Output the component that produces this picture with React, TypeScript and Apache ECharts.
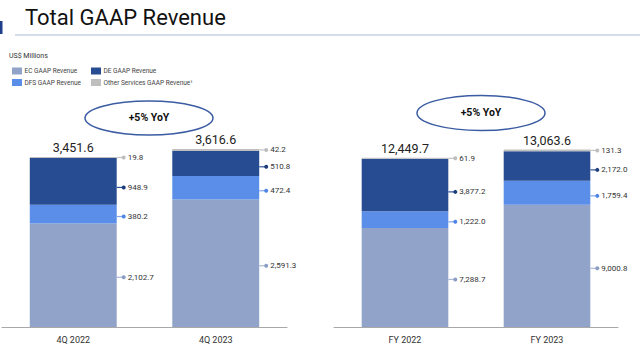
import React, { useEffect, useRef } from "react";
import * as echarts from "echarts";

const categoriesQ = ["4Q 2022", "4Q 2023"];
const categoriesFY = ["FY 2022", "FY 2023"];
const seriesNames = ["EC GAAP Revenue", "DFS GAAP Revenue", "DE GAAP Revenue", "Other Services GAAP Revenue\u00b9"];
const ecQ = [2102.7, 2591.3];
const dfsQ = [380.2, 472.4];
const deQ = [948.9, 510.8];
const otherQ = [19.8, 42.2];
const totalsQ = [3451.6, 3616.6];
const ecFY = [7288.7, 9000.8];
const dfsFY = [1222.0, 1759.4];
const deFY = [3877.2, 2172.0];
const otherFY = [61.9, 131.3];
const totalsFY = [12449.7, 13063.6];
const yoyLabels = ["+5% YoY", "+5% YoY"];
const titleText = "Total GAAP Revenue";
const unitText = "US$ Millions";

const FONT = "Roboto, 'Noto Sans', sans-serif";
const barColors = ["#91A3C8", "#5A8EE8", "#274C91", "#BFBFBF"];
const lineColors = ["#A9B8D6", "#7FA7EE", "#2D5298", "#C4C4C4"];
const dotColors = ["#8A9DC4", "#4F86E6", "#1E3D7C", "#BDBDBD"];
const labelFrac = [0.48, 0.37, 0.37, 0.5];
const BAR_FRAC = 0.61;

const fmt = (v: number) =>
  v.toLocaleString("en-US", { minimumFractionDigits: 1, maximumFractionDigits: 1 });

function buildAnnot(stacks: number[][]) {
  const out: number[][] = [];
  const n = stacks[0].length;
  for (let i = 0; i < n; i++) {
    let bottom = 0;
    for (let s = 0; s < stacks.length; s++) {
      out.push([i, bottom, stacks[s][i], s]);
      bottom += stacks[s][i];
    }
  }
  return out;
}

export default function App() {
  const ref = useRef<HTMLDivElement>(null);
  useEffect(() => {
    if (!ref.current) return;
    const chart = echarts.init(ref.current, null, { renderer: "svg" });
    const stacksQ = [ecQ, dfsQ, deQ, otherQ];
    const stacksFY = [ecFY, dfsFY, deFY, otherFY];

    const barSeries = (stacks: number[][], totals: number[], idx: number) =>
      stacks.map((arr, s) => ({
        type: "bar",
        name: seriesNames[s],
        xAxisIndex: idx,
        yAxisIndex: idx,
        stack: "total" + idx,
        barWidth: BAR_FRAC * 100 + "%",
        data: arr,
        itemStyle: { color: barColors[s] },
        label:
          s === stacks.length - 1
            ? {
                show: true,
                position: "top",
                distance: 3,
                formatter: (p: any) => fmt(totals[p.dataIndex]),
                fontSize: 12.5,
                color: "#222",
                fontFamily: FONT,
              }
            : { show: false },
      }));

    const renderItem = (params: any, api: any) => {
      const cat = api.value(0);
      const bottom = api.value(1);
      const val = api.value(2);
      const s = api.value(3);
      const p = api.coord([cat, bottom + val * labelFrac[s]]);
      const band = api.size([1, 0])[0];
      const xr = p[0] + (band * BAR_FRAC) / 2;
      return {
        type: "group",
        children: [
          { type: "line", shape: { x1: xr, y1: p[1], x2: xr + 7, y2: p[1] }, style: { stroke: lineColors[s], lineWidth: 1.2 } },
          { type: "circle", shape: { cx: xr + 7, cy: p[1], r: 2 }, style: { fill: dotColors[s] } },
          {
            type: "text",
            style: { text: fmt(val), x: xr + 11, y: p[1], verticalAlign: "middle", align: "left", fontSize: 8, fill: "#333", fontFamily: FONT },
          },
        ],
      };
    };

    const annotSeries = (stacks: number[][], idx: number) => ({
      type: "custom",
      xAxisIndex: idx,
      yAxisIndex: idx,
      renderItem,
      data: buildAnnot(stacks),
      encode: { x: 0, y: 1 },
      silent: true,
      z: 5,
    });

    const xAxisCommon = {
      type: "category",
      axisLine: { lineStyle: { color: "#A8A8A8", width: 1 } },
      axisTick: { show: false },
      axisLabel: { color: "#333", fontSize: 9, fontFamily: FONT, margin: 8 },
    };
    const yAxisCommon = { type: "value", min: 0, show: false, splitLine: { show: false } };

    const legendGraphics: any[] = [];
    const legendPos = [
      [12, 71],
      [12, 82.5],
      [91, 71],
      [91, 82.5],
    ];
    seriesNames.forEach((n, i) => {
      legendGraphics.push({ type: "rect", shape: { x: legendPos[i][0], y: legendPos[i][1] - 3.5, width: 10, height: 7 }, style: { fill: barColors[i] } });
      legendGraphics.push({
        type: "text",
        style: { text: n, x: legendPos[i][0] + 12.5, y: legendPos[i][1], verticalAlign: "middle", fontSize: 6.5, fill: "#444", fontFamily: FONT },
      });
    });

    const ellipses = [
      { cx: 149, cy: 118, rx: 64, ry: 17 },
      { cx: 481, cy: 113, rx: 64, ry: 17.5 },
    ];
    const yoyGraphics: any[] = [];
    ellipses.forEach((e, i) => {
      yoyGraphics.push({ type: "ellipse", shape: e, style: { fill: "none", stroke: "#3B5CA3", lineWidth: 1.5 } });
      yoyGraphics.push({
        type: "text",
        style: { text: yoyLabels[i], x: e.cx, y: e.cy - 1, align: "center", verticalAlign: "middle", fontSize: 10.5, fontWeight: "bold", fill: "#111", fontFamily: FONT },
      });
    });

    chart.setOption({
      animation: false,
      backgroundColor: "#fff",
      grid: [
        { left: 2, width: 285, top: 130, height: 197 },
        { left: 334, width: 284, top: 130, height: 197 },
      ],
      xAxis: [
        { ...xAxisCommon, gridIndex: 0, data: categoriesQ },
        { ...xAxisCommon, gridIndex: 1, data: categoriesFY },
      ],
      yAxis: [
        { ...yAxisCommon, gridIndex: 0, max: 4000 },
        { ...yAxisCommon, gridIndex: 1, max: 14500 },
      ],
      series: [
        ...barSeries(stacksQ, totalsQ, 0),
        ...barSeries(stacksFY, totalsFY, 1),
        annotSeries(stacksQ, 0),
        annotSeries(stacksFY, 1),
      ],
      graphic: [
        { type: "rect", shape: { x: 0, y: 21, width: 2.5, height: 13 }, style: { fill: "#1F3F8A" } },
        {
          type: "text",
          style: { text: titleText, x: 25, y: 17, verticalAlign: "middle", fontSize: 22, fill: "#111", fontFamily: FONT },
        },
        { type: "line", shape: { x1: 15, y1: 35, x2: 640, y2: 35 }, style: { stroke: "#AAB9DB", lineWidth: 1 } },
        {
          type: "text",
          style: { text: unitText, x: 9, y: 56, verticalAlign: "middle", fontSize: 7, fill: "#333", fontFamily: FONT },
        },
        ...legendGraphics,
        ...yoyGraphics,
      ],
    });
    return () => chart.dispose();
  }, []);
  return <div ref={ref} style={{ position: "fixed", left: 0, top: 0, width: 640, height: 352 }} />;
}
